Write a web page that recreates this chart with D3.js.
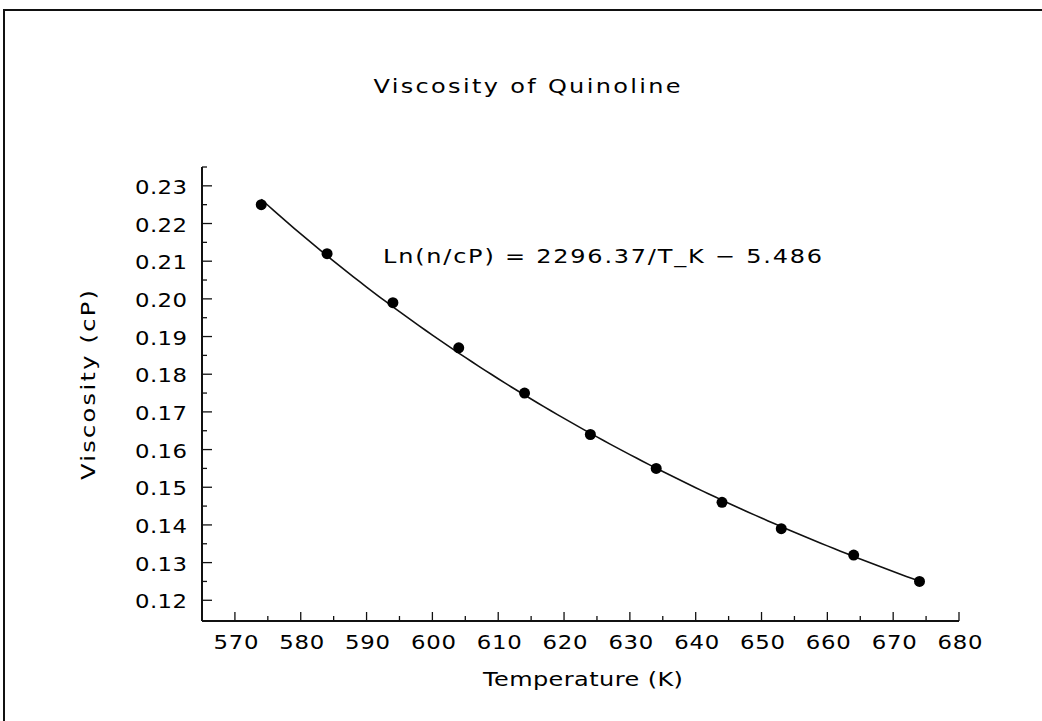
<!DOCTYPE html>
<html>
<head>
<meta charset="utf-8">
<script src="https://cdn.jsdelivr.net/npm/d3@7"></script>
<style>
  body { margin: 0; background: #fff; }
  text { font-family: "DejaVu Sans", sans-serif; font-weight: 400; fill: #000; }
</style>
</head>
<body>
<svg id="chart" width="1042" height="721"></svg>
<script>
// Data
var temps = [574, 584, 594, 604, 614, 624, 634, 644, 653, 664, 674];
var viscosity = [0.225, 0.212, 0.199, 0.187, 0.175, 0.164, 0.155, 0.146, 0.139, 0.132, 0.125];
var xTicks = [570, 580, 590, 600, 610, 620, 630, 640, 650, 660, 670, 680];
var yTicks = [0.12, 0.13, 0.14, 0.15, 0.16, 0.17, 0.18, 0.19, 0.20, 0.21, 0.22, 0.23];
// Fit shown on the chart: Ln(n/cP) = fitA / T_K + fitB
var fitA = 2296.37, fitB = -5.486;
var fitLabel = "Ln(n/cP) = 2296.37/T_K \u2212 5.486";

var svg = d3.select("#chart");

// wide plotter-style lettering: stretch glyphs horizontally
var SX = 1.2;
function label(parent, tx, ty, str, size, len, anchor, rot) {
    var g = parent.append("g")
        .attr("transform", "translate(" + tx + "," + ty + ")" + (rot ? " rotate(" + rot + ")" : "") + " scale(" + SX + ",1)");
    g.append("text")
        .attr("text-anchor", anchor || "start")
        .attr("font-size", size)
        .attr("textLength", len / SX)
        .attr("lengthAdjust", "spacing")
        .text(str);
    return g;
}

// Scales
var x = d3.scaleLinear().domain([565, 680]).range([202, 959]);
var y = d3.scaleLinear().domain([0.1145, 0.235]).range([621, 167]);

// Outer frame (top & left edges of the scanned page)
svg.append("path")
    .attr("d", "M4,721 L4,10 L1042,10")
    .attr("fill", "none")
    .attr("stroke", "#111")
    .attr("stroke-width", 2);

// Title
label(svg, 527, 93, "Viscosity of Quinoline", 20, 307, "middle");

// Axes lines
var axes = svg.append("g").attr("stroke", "#111").attr("stroke-width", 2).attr("fill", "none");
axes.append("line").attr("x1", x.range()[0]).attr("x2", x.range()[1]).attr("y1", y.range()[0]).attr("y2", y.range()[0]);
axes.append("line").attr("x1", x.range()[0]).attr("x2", x.range()[0]).attr("y1", y.range()[0]).attr("y2", y.range()[1]);

// X ticks (inward, major + minor)
var xMinor = d3.range(565, 681, 5).filter(function (d) { return d % 10 !== 0; });
axes.selectAll(".xmaj").data(xTicks).enter().append("line")
    .attr("stroke-width", 1.3)
    .attr("x1", function (d) { return x(d); }).attr("x2", function (d) { return x(d); })
    .attr("y1", y.range()[0]).attr("y2", y.range()[0] - 9);
axes.selectAll(".xmin").data(xMinor).enter().append("line")
    .attr("stroke-width", 1.3)
    .attr("x1", function (d) { return x(d); }).attr("x2", function (d) { return x(d); })
    .attr("y1", y.range()[0]).attr("y2", y.range()[0] - 5);

// Y ticks
var yMinor = yTicks.map(function (d) { return d + 0.005; });
axes.selectAll(".ymaj").data(yTicks).enter().append("line")
    .attr("stroke-width", 1.3)
    .attr("x1", x.range()[0]).attr("x2", x.range()[0] + 10)
    .attr("y1", function (d) { return y(d); }).attr("y2", function (d) { return y(d); });
axes.selectAll(".ymin").data(yMinor).enter().append("line")
    .attr("stroke-width", 1.3)
    .attr("x1", x.range()[0]).attr("x2", x.range()[0] + 5)
    .attr("y1", function (d) { return y(d); }).attr("y2", function (d) { return y(d); });

// Tick labels
xTicks.forEach(function (d) {
    label(svg, x(d) + 1, 649, String(d), 19, 45, "middle");
});
yTicks.forEach(function (d) {
    label(svg, 187, y(d) + 8, d3.format(".2f")(d), 19, 52, "end");
});

// Axis titles
label(svg, 583, 686, "Temperature (K)", 20, 200, "middle");
label(svg, 95, 385, "Viscosity (cP)", 20, 190, "middle", -90);

// Fit equation
label(svg, 383, 263, fitLabel, 20, 439, "start");

// Fit curve
var fitT = d3.range(temps[0], temps[temps.length - 1] + 0.5, 1);
var line = d3.line()
    .x(function (d) { return x(d); })
    .y(function (d) { return y(Math.exp(fitA / d + fitB)); });
svg.append("path")
    .datum(fitT)
    .attr("d", line)
    .attr("fill", "none")
    .attr("stroke", "#111")
    .attr("stroke-width", 1.6);

// Data points
svg.selectAll(".pt").data(temps).enter().append("circle")
    .attr("cx", function (d) { return x(d); })
    .attr("cy", function (d, i) { return y(viscosity[i]); })
    .attr("r", 5.5)
    .attr("fill", "#000");
</script>
</body>
</html>
